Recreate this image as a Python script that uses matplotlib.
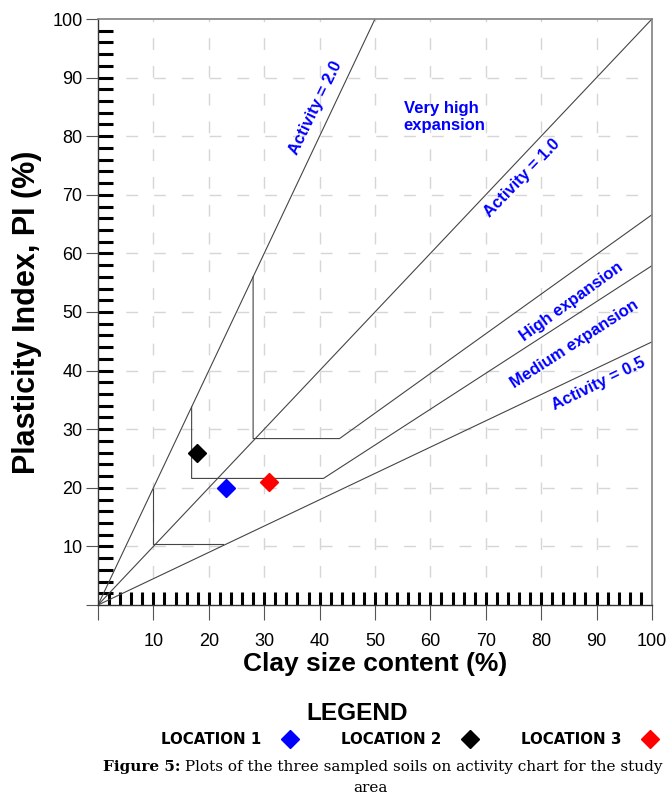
import matplotlib
matplotlib.use("Agg")
import matplotlib.pyplot as plt
import numpy as np
from matplotlib.ticker import FixedLocator

# ====== DATOS ======
# puntos de las tres localidades (arcilla %, IP %)
clay = [23.1, 17.9, 30.9]
pi = [19.9, 25.9, 21.0]
locations = ['LOCATION 1', 'LOCATION 2', 'LOCATION 3']
colors = ['#0000ff', '#000000', '#ff0000']

# lineas de actividad
act2_x, act2_y = [0, 50], [0, 100]
act1_x, act1_y = [0, 100], [0, 100]
act05_x, act05_y = [0, 100], [0, 44.9]

# limites de zonas de expansion (escalones + recta)
vh_x, vh_y = [28.0, 28.0, 43.6, 100], [56.0, 28.4, 28.4, 66.6]
hi_x, hi_y = [16.9, 16.9, 40.7, 100], [33.8, 21.6, 21.6, 57.9]
med_x, med_y = [9.9, 9.9, 22.6], [19.8, 10.4, 10.4]

major = np.arange(0, 101, 10)
major_labels = [''] + [str(v) for v in major[1:]]
minor = np.arange(2, 100, 2)

# ====== FIGURA ======
plt.rcParams['font.family'] = ['Liberation Sans', 'DejaVu Sans']

fig = plt.figure(figsize=(6.69, 8), dpi=100)
ax = fig.add_axes([0.1465, 0.24375, 0.828, 0.7325])

ax.set_xlim(0, 100)
ax.set_ylim(0, 100)

# rejilla discontinua
for v in major[1:-1]:
    ax.axvline(v, color='#d6d6d6', lw=1.0, dashes=(8.5, 11.5), zorder=0)
    ax.axhline(v, color='#d6d6d6', lw=1.0, dashes=(8.5, 11.5), zorder=0)

lc = '#454545'
for xs, ys in [(act2_x, act2_y), (act1_x, act1_y), (act05_x, act05_y),
               (vh_x, vh_y), (hi_x, hi_y), (med_x, med_y)]:
    ax.plot(xs, ys, color=lc, lw=0.8, zorder=2)

for c, p, name, col in zip(clay, pi, locations, colors):
    ax.plot(c, p, 'D', color=col, markersize=9, label=name, zorder=4)

# textos de zonas
tkw = dict(color='#0000ff', fontweight='bold', fontsize=12,
           ha='center', va='center', rotation_mode='anchor')
ax.text(39.3, 84.9, 'Activity = 2.0', rotation=64, **tkw)
ax.text(55.2, 83.3, 'Very high\nexpansion', color='#0000ff', fontweight='bold',
        fontsize=12, ha='left', va='center', linespacing=1.15)
ax.text(76.5, 72.9, 'Activity = 1.0', rotation=46, **tkw)
ax.text(85.4, 51.7, 'High expansion', rotation=36, **tkw)
ax.text(86.1, 44.5, 'Medium expansion', rotation=33, **tkw)
ax.text(90.4, 37.7, 'Activity = 0.5', rotation=26, **tkw)

# ejes
for s in ['top', 'right']:
    ax.spines[s].set_color('#808080')
    ax.spines[s].set_linewidth(1.2)
for s in ['left', 'bottom']:
    ax.spines[s].set_color('#333333')
    ax.spines[s].set_linewidth(1.0)

ax.set_xticks(major)
ax.set_xticklabels(major_labels)
ax.set_yticks(major)
ax.set_yticklabels(major_labels)
ax.xaxis.set_minor_locator(FixedLocator(minor))
ax.yaxis.set_minor_locator(FixedLocator(minor))
ax.xaxis.remove_overlapping_locs = False
ax.yaxis.remove_overlapping_locs = False

ax.tick_params(axis='x', which='major', direction='out', length=11, width=0.8,
               color='#555555', labelsize=13, pad=9)
ax.tick_params(axis='y', which='major', direction='out', length=8.6, width=0.8,
               color='#555555', labelsize=13, pad=2.5)
ax.tick_params(axis='x', which='minor', direction='in', length=9.5, width=2.2,
               color='black')
ax.tick_params(axis='y', which='minor', direction='in', length=10.5, width=2.2,
               color='black')

ax.set_xlabel('Clay size content (%)', fontsize=19, fontweight='bold')
ax.set_ylabel('Plasticity Index, PI (%)', fontsize=22, fontweight='bold')
ax.xaxis.set_label_coords(0.5, -0.08)
ax.yaxis.set_label_coords(-0.101, 0.5)

# ====== LEYENDA ======
fig.text(357 / 669, 1 - 713 / 800, 'LEGEND', ha='center', va='center',
         fontsize=17.6, fontweight='bold')
handles, labels = ax.get_legend_handles_labels()
fig.legend(handles, labels, loc='center', bbox_to_anchor=(410 / 669, 1 - 740 / 800),
           ncol=3, frameon=False, markerfirst=False, handlelength=1.2,
           handletextpad=1.3, columnspacing=2.8,
           prop={'family': 'DejaVu Sans', 'weight': 'bold', 'size': 10.8})

# ====== PIE DE FIGURA ======
cap1 = fig.text(103 / 669, 1 - 767 / 800, 'Figure 5:', ha='left', va='center',
                family='DejaVu Serif', fontweight='bold', fontsize=11)
ax.annotate(' Plots of the three sampled soils on activity chart for the study',
            xy=(1, 0.5), xycoords=cap1, ha='left', va='center',
            family='DejaVu Serif', fontsize=11, annotation_clip=False)
fig.text(370 / 669, 1 - 788 / 800, 'area', ha='center', va='center',
         family='DejaVu Serif', fontsize=11)

fig.savefig('out.png', dpi=100)
